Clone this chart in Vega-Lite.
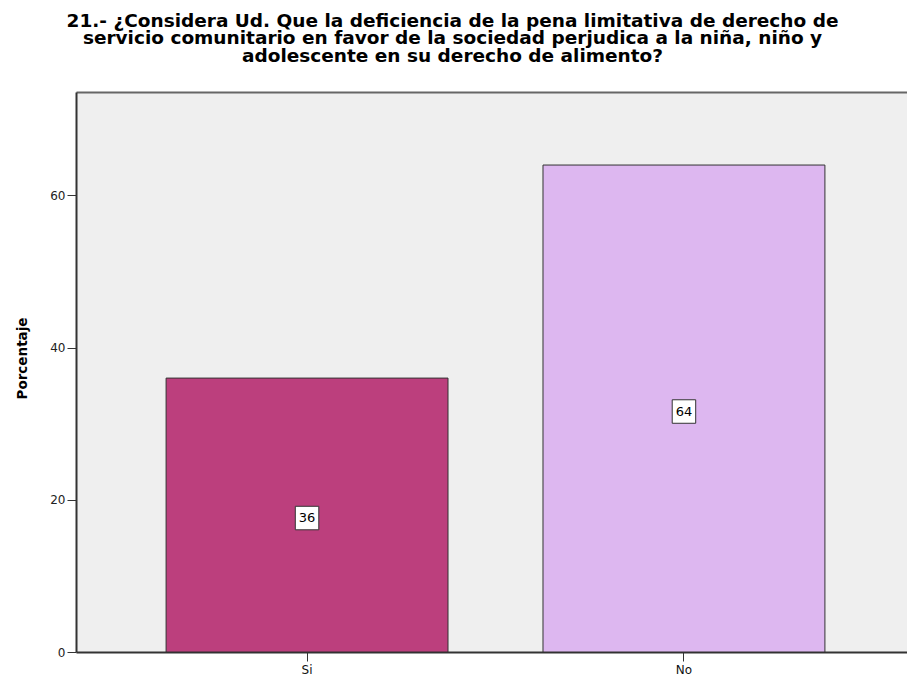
{
  "$schema": "https://vega.github.io/schema/vega-lite/v6.json",
  "width": 831,
  "height": 560,
  "autosize": {"type": "none"},
  "padding": {"left": 76, "top": 92, "right": 0, "bottom": 27},
  "background": "white",
  "config": {
    "font": "DejaVu Sans",
    "view": {"fill": "#EFEFEF", "stroke": null}
  },
  "title": {
    "text": [
      "21.- ¿Considera Ud. Que la deficiencia de la pena limitativa de derecho de",
      "servicio comunitario en favor de la sociedad perjudica a la niña, niño y",
      "adolescente en su derecho de alimento?"
    ],
    "font": "DejaVu Sans",
    "fontSize": 18.5,
    "fontWeight": "bold",
    "color": "#000000",
    "anchor": "middle",
    "frame": "group",
    "dx": -39,
    "offset": 27,
    "lineHeight": 17.5
  },
  "data": {
    "values": [
      {"Respuesta": "Si", "Porcentaje": 36},
      {"Respuesta": "No", "Porcentaje": 64}
    ]
  },
  "layer": [
    {
      "mark": {"type": "bar", "stroke": "#333333", "strokeWidth": 1},
      "encoding": {
        "x": {
          "field": "Respuesta",
          "type": "nominal",
          "sort": ["Si", "No"],
          "scale": {"range": [0, 839], "paddingInner": 0.252, "paddingOuter": 0.239},
          "axis": {
            "title": null,
            "labelAngle": 0,
            "labelFont": "DejaVu Sans",
            "labelFontSize": 12,
            "labelColor": "#111111",
            "labelPadding": 3,
            "tickSize": 9,
            "tickColor": "#333333",
            "tickWidth": 1,
            "domainColor": "#333333",
            "domainWidth": 2
          }
        },
        "y": {
          "field": "Porcentaje",
          "type": "quantitative",
          "scale": {"domain": [0, 73.6], "nice": false},
          "axis": {
            "title": "Porcentaje",
            "titleFont": "DejaVu Sans",
            "titleFontSize": 13.5,
            "titleFontWeight": "bold",
            "titleColor": "#000000",
            "titleX": -54,
            "titleY": 266,
            "titleAngle": -90,
            "titleAlign": "center",
            "titleBaseline": "middle",
            "values": [0, 20, 40, 60],
            "grid": false,
            "labelFont": "DejaVu Sans",
            "labelFontSize": 12,
            "labelColor": "#222222",
            "labelPadding": 2,
            "tickSize": 9,
            "tickColor": "#333333",
            "tickWidth": 1,
            "domainColor": "#333333",
            "domainWidth": 2
          }
        },
        "fill": {
          "field": "Respuesta",
          "type": "nominal",
          "scale": {"domain": ["Si", "No"], "range": ["#BC3F7D", "#DDB7F0"]},
          "legend": null
        }
      }
    },
    {
      "layer": [
        {
          "mark": {"type": "point", "shape": "square", "filled": true, "fill": "white", "stroke": "#333333", "strokeWidth": 1, "size": 552, "opacity": 1, "yOffset": 3}
        },
        {
          "mark": {"type": "text", "font": "DejaVu Sans", "fontSize": 13, "color": "#000000", "baseline": "middle", "align": "center", "yOffset": 3},
          "encoding": {"text": {"field": "Porcentaje", "type": "quantitative"}}
        }
      ],
      "encoding": {
        "x": {
          "field": "Respuesta",
          "type": "nominal",
          "sort": ["Si", "No"],
          "axis": {
            "orient": "top",
            "title": null,
            "labels": false,
            "ticks": false,
            "domainColor": "#666666",
            "domainWidth": 2
          }
        },
        "y": {
          "field": "Porcentaje",
          "type": "quantitative",
          "scale": {"domain": [0, 147.2], "nice": false},
          "axis": null
        }
      }
    }
  ],
  "resolve": {"scale": {"y": "independent"}, "axis": {"x": "independent"}}
}
